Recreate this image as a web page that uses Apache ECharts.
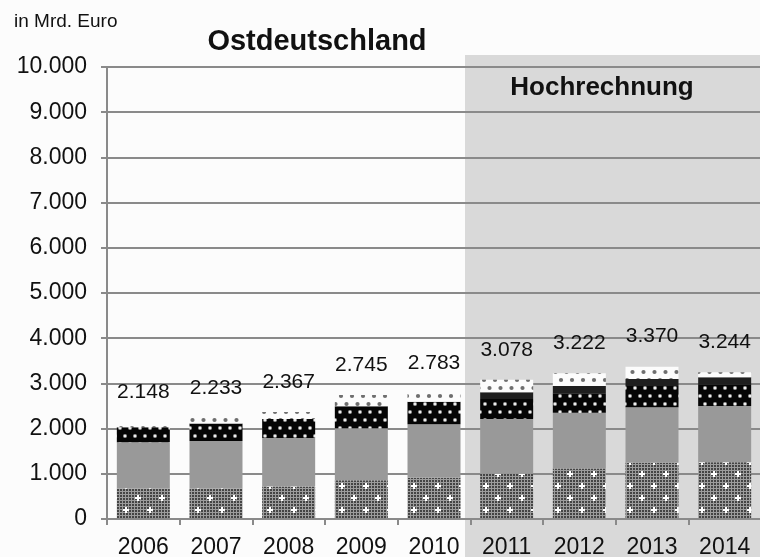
<!DOCTYPE html>
<html><head><meta charset="utf-8">
<script src="https://cdn.jsdelivr.net/npm/echarts@6/dist/echarts.min.js"></script>
<style>html,body{margin:0;padding:0;background:#fcfcfc}#c{width:760px;height:557px}</style>
</head><body><div id="c"></div>
<script>
// ---- data ----
const years = ['2006','2007','2008','2009','2010','2011','2012','2013','2014'];
const seriesA = [680, 680, 720, 860, 910, 1000, 1120, 1245, 1255];   // bottom, checkered
const seriesB = [1018, 1045, 1070, 1145, 1185, 1215, 1230, 1225, 1245]; // gray
const seriesC = [332, 390, 420, 490, 500, 440, 430, 470, 480];       // black dotted
const seriesD = [0, 0, 0, 0, 0, 150, 160, 155, 155];                // solid dark
const seriesE = [118, 118, 157, 250, 188, 273, 282, 275, 109];      // light dotted
const totals  = [2148, 2233, 2367, 2745, 2783, 3078, 3222, 3370, 3244];
const yTicks  = { min: 0, max: 10000, interval: 1000 };

function de(v){ return String(v).replace(/\B(?=(\d{3})+(?!\d))/g, '.'); }

function makeCanvas(w, h, draw){
  const c = document.createElement('canvas'); c.width = w; c.height = h;
  draw(c.getContext('2d')); return c;
}
function dot(g, x, y, r, col){ g.beginPath(); g.arc(x, y, r, 0, Math.PI*2); g.fillStyle = col; g.fill(); }

const patA = makeCanvas(24, 24, g => {
  g.fillStyle = '#9c9c9c'; g.fillRect(0, 0, 24, 24);
  g.fillStyle = '#444444';
  for (let y = 0; y < 24; y += 3) for (let x = 0; x < 24; x += 3) g.fillRect(x, y, 2, 2);
  g.fillStyle = '#ffffff';
  [[6,6],[18,18]].forEach(([cx,cy]) => { g.fillRect(cx-3, cy-1, 6, 2); g.fillRect(cx-1, cy-3, 2, 6); });
});
const patC = makeCanvas(20, 16, g => {
  g.fillStyle = '#050505'; g.fillRect(0, 0, 20, 16);
  [[5,4],[15,4],[0,12],[10,12],[20,12]].forEach(([x,y]) => { dot(g, x, y, 2.0, '#a0a0a0'); dot(g, x, y, 1.1, '#ffffff'); });
});
const patE = makeCanvas(22, 16, g => {
  g.fillStyle = '#fcfcfc'; g.fillRect(0, 0, 22, 16);
  [[5.5,4],[16.5,4],[0,12],[11,12],[22,12]].forEach(([x,y]) => dot(g, x, y, 2.1, '#6e6e6e'));
});

const chart = echarts.init(document.getElementById('c'));
const barCommon = { type: 'bar', stack: 'total', barWidth: 53, silent: true };
chart.setOption({
  backgroundColor: '#fcfcfc',
  animation: false,
  textStyle: { fontFamily: 'Liberation Sans, Arial, sans-serif' },
  grid: { left: 107, top: 67, width: 654, height: 452, containLabel: false, outerBoundsMode: 'none' },
  xAxis: {
    type: 'category', data: years,
    axisLine: { lineStyle: { color: '#8a8a8a', width: 2 } },
    axisTick: { show: true, length: 6, lineStyle: { color: '#8a8a8a', width: 2 } },
    axisLabel: { color: '#111', fontSize: 23, margin: 17, interval: 0 },
    z: 3
  },
  yAxis: {
    type: 'value', min: yTicks.min, max: yTicks.max, interval: yTicks.interval,
    axisLine: { show: true, lineStyle: { color: '#8a8a8a', width: 2 } },
    axisTick: { show: true, length: 6, lineStyle: { color: '#8a8a8a', width: 2 } },
    splitLine: { lineStyle: { color: '#8a8a8a', width: 2 } },
    axisLabel: { color: '#111', fontSize: 23, margin: 20, formatter: v => de(v) }
  },
  graphic: [
    { type: 'rect', z: -10, shape: { x: 465, y: 55, width: 300, height: 510 }, style: { fill: '#d9d9d9' } },
    { type: 'text', z: 10, x: 14, y: 22, style: { text: 'in Mrd. Euro', font: '19px "Liberation Sans", Arial, sans-serif', fill: '#111', align: 'left', verticalAlign: 'middle', textAlign: 'left', textVerticalAlign: 'middle' } },
    { type: 'text', z: 10, x: 317, y: 42, style: { text: 'Ostdeutschland', font: 'bold 29px "Liberation Sans", Arial, sans-serif', fill: '#111', align: 'center', verticalAlign: 'middle', textAlign: 'center', textVerticalAlign: 'middle' } },
    { type: 'text', z: 10, x: 602, y: 88, style: { text: 'Hochrechnung', font: 'bold 26px "Liberation Sans", Arial, sans-serif', fill: '#111', align: 'center', verticalAlign: 'middle', textAlign: 'center', textVerticalAlign: 'middle' } }
  ],
  series: [
    Object.assign({}, barCommon, { name: 'A', data: seriesA, itemStyle: { color: { image: patA, repeat: 'repeat' } } }),
    Object.assign({}, barCommon, { name: 'B', data: seriesB, itemStyle: { color: '#999999' } }),
    Object.assign({}, barCommon, { name: 'C', data: seriesC, itemStyle: { color: { image: patC, repeat: 'repeat' } } }),
    Object.assign({}, barCommon, { name: 'D', data: seriesD, itemStyle: { color: '#1e1e1e' } }),
    Object.assign({}, barCommon, { name: 'E', data: seriesE, itemStyle: { color: { image: patE, repeat: 'repeat' } } }),
    {
      type: 'scatter', name: 'Summe', data: totals, symbolSize: 1, silent: true, z: 10,
      itemStyle: { color: 'rgba(0,0,0,0)', opacity: 1 },
      label: { show: true, position: 'top', distance: 19, fontSize: 21, color: '#111', opacity: 1, formatter: p => de(p.value) }
    }
  ]
});
</script>
</body></html>
